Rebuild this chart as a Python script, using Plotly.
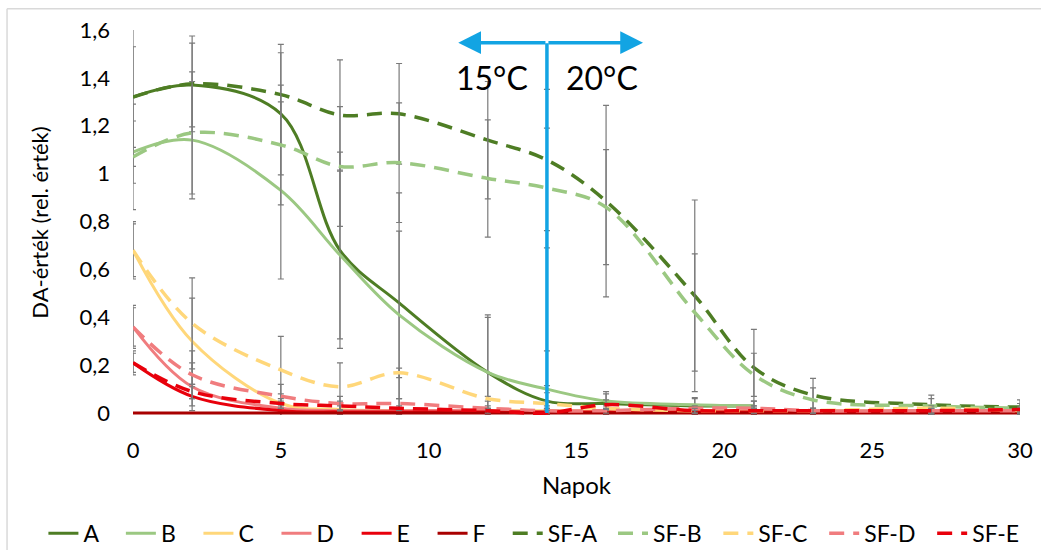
import plotly.graph_objects as go

days = [0, 2, 5, 7, 9, 12, 14, 16, 19, 21, 23, 27, 30]

A = [1.32, 1.37, 1.25, 0.68, 0.46, 0.17, 0.05, 0.04, 0.03, 0.03]
B = [1.09, 1.14, 0.93, 0.66, 0.41, 0.17, 0.10, 0.05, 0.035, 0.03]
C = [0.68, 0.30, 0.04, 0.015, 0.01, 0.01, 0.01, 0.01, 0.01, 0.01, 0.01, 0.01, 0.01]
D = [0.36, 0.11, 0.02, 0.01, 0.01, 0.01, 0.005, 0.005, 0.005, 0.005, 0.005, 0.005, 0.005]
E = [0.21, 0.07, 0.01, 0.005, 0.005, 0.005, 0.005, 0.005, 0.005, 0.005, 0.005, 0.005, 0.005]
F = [0, 0, 0, 0, 0, 0, 0, 0, 0, 0, 0, 0, 0]
SF_A = [1.32, 1.375, 1.33, 1.245, 1.25, 1.14, 1.057, 0.885, 0.49, 0.19, 0.075, 0.035, 0.025]
SF_B = [1.07, 1.17, 1.12, 1.03, 1.046, 0.98, 0.94, 0.86, 0.42, 0.16, 0.055, 0.03, 0.02]
SF_C = [0.68, 0.375, 0.18, 0.11, 0.168, 0.06, 0.04, 0.02, 0.01, 0.01, 0.01, 0.02, 0.01]
SF_D = [0.36, 0.16, 0.07, 0.04, 0.04, 0.02, 0.01, 0.01, 0.02, 0.02, 0.01, 0.01, 0.01]
SF_E = [0.21, 0.09, 0.04, 0.03, 0.02, 0.01, 0.0, 0.035, 0.01, 0.01, 0.01, 0.01, 0.015]

err_A = [0.29, 0.175, 0.255, 0.41, 0.46, 0.24, 0.21, 0.04, 0.03, 0.02]
err_B = [0.13, 0.245, 0.37, 0.35, 0.35, 0.23, 0.015, 0.04, 0.03, 0.02]
err_C = [0.11, 0.18, 0.04, 0.02, 0.01, 0.01, 0.01, 0.01, 0.01, 0.01, 0.01, 0.01, 0.01]
err_D = [0.09, 0.1, 0.03, 0.02, 0.01, 0.01, 0.01, 0.01, 0.01, 0.01, 0.01, 0.01, 0.01]
err_E = [0.05, 0.04, 0.02, 0.01, 0.01, 0.01, 0.01, 0.01, 0.01, 0.01, 0.01, 0.01, 0.01]
err_SF_A = [0.21, 0.2, 0.21, 0.23, 0.21, 0.245, 0.295, 0.40, 0.40, 0.16, 0.07, 0.04, 0.03]
err_SF_B = [0.22, 0.255, 0.25, 0.25, 0.25, 0.245, 0.25, 0.24, 0.245, 0.09, 0.05, 0.03, 0.02]
err_SF_C = [0.12, 0.19, 0.14, 0.10, 0.02, 0.01, 0.01, 0.01, 0.01, 0.01, 0.01, 0.01, 0.01]
err_SF_D = [0.08, 0.1, 0.05, 0.03, 0.02, 0.01, 0.01, 0.01, 0.01, 0.01, 0.01, 0.01, 0.01]
err_SF_E = [0.04, 0.03, 0.02, 0.02, 0.01, 0.01, 0.01, 0.02, 0.01, 0.01, 0.01, 0.01, 0.01]

names = ["A", "B", "C", "D", "E", "F", "SF-A", "SF-B", "SF-C", "SF-D", "SF-E"]
values = [A, B, C, D, E, F, SF_A, SF_B, SF_C, SF_D, SF_E]
errors = [err_A, err_B, err_C, err_D, err_E, None, err_SF_A, err_SF_B, err_SF_C, err_SF_D, err_SF_E]
colors = ["#4e7d24", "#9bc882", "#ffd77a", "#f07c7e", "#e8000b", "#a80000",
          "#4e7d24", "#9bc882", "#ffd77a", "#f07c7e", "#e8000b"]
dashed = [False] * 6 + [True] * 5

FONT = "Lato"
NB = "\u00a0"

fig = go.Figure()
for nm, v, e, c, d in zip(names, values, errors, colors, dashed):
    x = days[:len(v)]
    ey = None
    if e is not None:
        ey = dict(type="data", array=e, visible=True, color="#7a7a7a", thickness=1.2, width=3)
    pad = NB * (2 if d else 3)
    fig.add_trace(go.Scatter(
        x=x, y=v, name=nm + pad, mode="lines",
        line=dict(color=c, width=3.5 if d else 3, shape="spline", smoothing=1,
                  dash="15px,9px" if d else "solid"),
        error_y=ey,
    ))

# temperature change marker
fig.add_shape(type="line", x0=14, x1=14, y0=0, y1=1.545, xref="x", yref="y",
              line=dict(color="#12a4e3", width=3.5))
for head in (11.0, 17.25):
    fig.add_annotation(x=head, y=1.547, ax=14, ay=1.547, xref="x", yref="y",
                       axref="x", ayref="y", showarrow=True, arrowhead=2,
                       arrowsize=1.3, arrowwidth=3.5, arrowcolor="#12a4e3", text="")
fig.add_annotation(x=12.14, y=1.40, xref="x", yref="y", text="15°C", showarrow=False,
                   font=dict(family=FONT, size=32, color="#000000"))
fig.add_annotation(x=15.86, y=1.40, xref="x", yref="y", text="20°C", showarrow=False,
                   font=dict(family=FONT, size=32, color="#000000"))

# outer chart border (top and left)
fig.add_shape(type="line", xref="paper", yref="paper", x0=-0.142, x1=1.03, y0=1.055, y1=1.055,
              line=dict(color="#d9d9d9", width=1.5))
fig.add_shape(type="line", xref="paper", yref="paper", x0=-0.142, x1=-0.142, y0=1.055, y1=-0.4,
              line=dict(color="#d9d9d9", width=1.5))

fig.update_layout(
    width=1041, height=550,
    margin=dict(l=133, r=21, t=30, b=135, autoexpand=False),
    paper_bgcolor="white", plot_bgcolor="white",
    font=dict(family=FONT, size=22, color="#000000"),
    showlegend=True,
    legend=dict(orientation="h", x=-0.101, xanchor="left", y=-0.307, yanchor="middle",
                font=dict(family=FONT, size=23, color="#000000"), itemwidth=30,
                tracegroupgap=0, bgcolor="rgba(0,0,0,0)"),
    xaxis=dict(range=[0, 30], tickvals=[0, 5, 10, 15, 20, 25, 30], showgrid=False,
               zeroline=False, showline=False, ticks="", ticklabelstandoff=20, automargin=False,
               title=dict(text="Napok", font=dict(family=FONT, size=24), standoff=15),
               tickfont=dict(family=FONT, size=22)),
    yaxis=dict(range=[-0.008, 1.6], tickvals=[0, 0.2, 0.4, 0.6, 0.8, 1.0, 1.2, 1.4, 1.6],
               ticktext=["0", "0,2", "0,4", "0,6", "0,8", "1", "1,2", "1,4", "1,6"],
               showgrid=False, zeroline=False, showline=False, ticks="", ticklabelstandoff=22,
               automargin=False,
               title=dict(text="DA-érték (rel. érték)", font=dict(family=FONT, size=22), standoff=24),
               tickfont=dict(family=FONT, size=22)),
)

fig.write_html("out.html")
